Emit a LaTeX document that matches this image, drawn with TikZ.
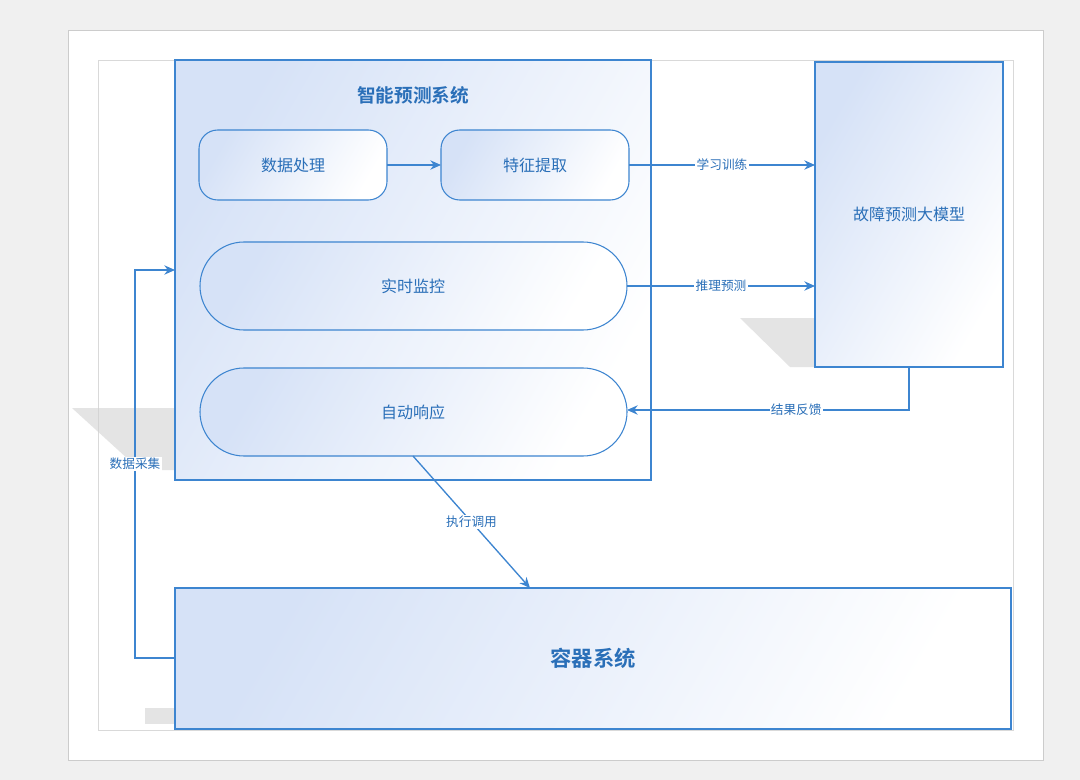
\documentclass[tikz,border=0pt]{standalone}
\usepackage{fontspec}
\setmainfont{Noto Sans CJK SC}
\newfontfamily\cjkb{Noto Sans CJK SC Bold}
\usetikzlibrary{arrows.meta}
\definecolor{ln}{HTML}{3D85D0}
\definecolor{tx}{HTML}{2A6FB8}
\definecolor{fl}{HTML}{D6E2F7}
\tikzset{
  x=0.75pt,y=-0.75pt,
  box/.style={draw=ln,line width=1.2pt,shading=axis,left color=fl,right color=white,shading angle=60},
  rbox/.style={box,rounded corners=14pt,line width=0.8pt},
  pill/.style={box,rounded corners=33pt,line width=0.8pt},
  arr/.style={draw=ln,line width=1pt,-{Stealth[length=8pt,width=7pt]}},
  lab/.style={fill=white,inner sep=1pt,text=tx,font=\fontsize{9.5}{11}\selectfont},
  txt/.style={text=tx,font=\fontsize{12}{14}\selectfont},
  shadow/.style={fill=gray!35,draw=none,opacity=0.6}
}
\begin{document}
\begin{tikzpicture}
\useasboundingbox (0,0) rectangle (1080,780);
\fill[gray!12] (0,0) rectangle (1080,780);
\draw[gray!40,fill=white] (68,30) rectangle (1043,760);
\draw[gray!30] (98,60) rectangle (1013,730);
% shadows
\fill[shadow] (145,708) rectangle (175,724);
\fill[shadow] (740,318) -- (815,318) -- (815,367) -- (790,367) -- cycle;
\fill[shadow] (72,408) -- (175,408) -- (175,470) -- (140,470) -- cycle;
% boxes
\path[box] (175,60) rectangle (651,480);
\node[txt,font=\cjkb\fontsize{14}{16}\selectfont] (t1) at (413,95) {智能预测系统};
\path[box] (815,62) rectangle (1003,367);
\node[txt] (m) at (909,214) {故障预测大模型};
\path[box] (175,588) rectangle (1011,729);
\node[txt,font=\cjkb\fontsize{16}{18}\selectfont] (c) at (593,658) {容器系统};
\path[rbox] (199,130) rectangle (387,200);
\node[txt] (d) at (293,165) {数据处理};
\path[rbox] (441,130) rectangle (629,200);
\node[txt] (f) at (535,165) {特征提取};
\path[pill] (200,242) rectangle (627,330);
\node[txt] (r) at (413,286) {实时监控};
\path[pill] (200,368) rectangle (627,456);
\node[txt] (a) at (413,412) {自动响应};
% arrows
\draw[arr] (387,165) -- (441,165);
\draw[arr] (629,165) -- node[lab]{学习训练} (815,165);
\draw[arr] (627,286) -- node[lab]{推理预测} (815,286);
\draw[arr] (909,367) -- (909,410) -- node[lab,pos=0.4]{结果反馈} (627,410);
\draw[arr] (413,456) -- node[lab]{执行调用} (530,588);
\draw[arr] (175,658) -- (135,658) -- node[lab,pos=0.5]{数据采集} (135,270) -- (175,270);
\end{tikzpicture}
\end{document}
